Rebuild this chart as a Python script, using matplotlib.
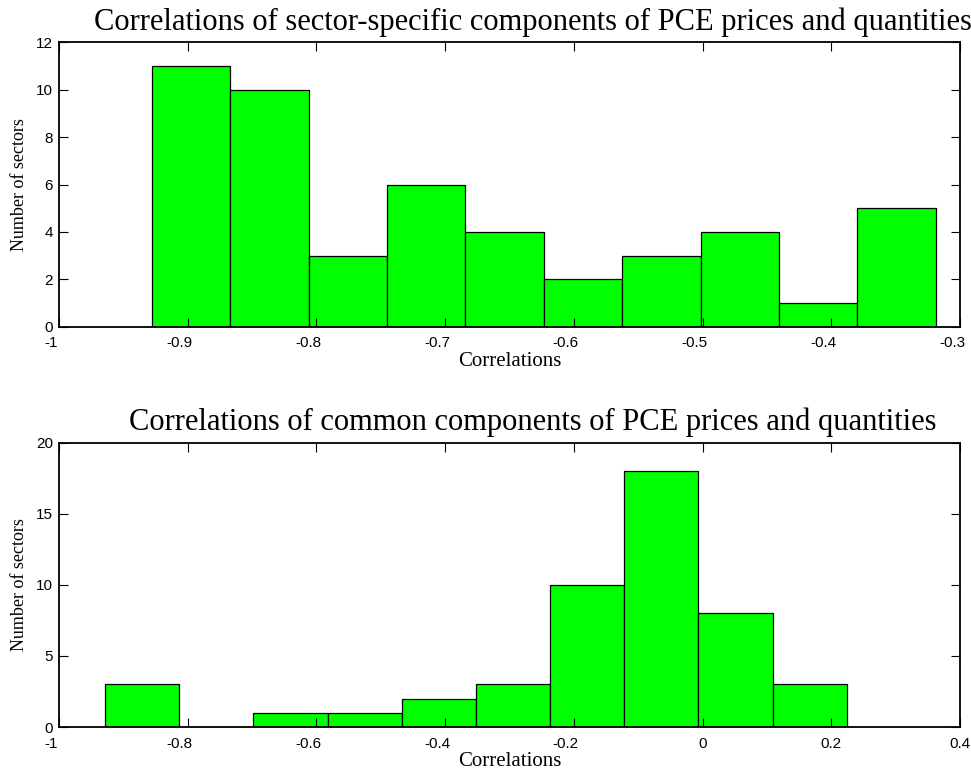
import numpy as np
import matplotlib
matplotlib.use("Agg")
import matplotlib.pyplot as plt
from matplotlib.transforms import ScaledTranslation

# top panel: sector-specific components
spec_left = -0.9278
spec_width = 0.0609
spec_counts = [11, 10, 3, 6, 4, 2, 3, 4, 1, 5]
spec_xticks = [-1, -0.9, -0.8, -0.7, -0.6, -0.5, -0.4, -0.3]
spec_yticks = [0, 2, 4, 6, 8, 10, 12]

# bottom panel: common components
comm_left = -0.928
comm_width = 0.1152
comm_counts = [3, 0, 1, 1, 2, 3, 10, 18, 8, 3]
comm_xticks = [-1, -0.8, -0.6, -0.4, -0.2, 0, 0.2, 0.4]
comm_yticks = [0, 5, 10, 15, 20]

SERIF = "Liberation Serif"
SANS = "Liberation Sans"


def hist_panel(fig, ax, left, width, counts, xticks, yticks, title):
    edges = left + width * np.arange(len(counts))
    ax.bar(edges, counts, width=width, align="edge", color="#00ff00",
           edgecolor="black", linewidth=0.9)
    ax.set_xlim(xticks[0], xticks[-1])
    ax.set_ylim(yticks[0], yticks[-1])
    ax.set_xticks(xticks)
    ax.set_yticks(yticks)
    ax.set_xticklabels([("%g" % t) for t in xticks], fontfamily=SANS, fontsize=11)
    ax.set_yticklabels([("%g" % t) for t in yticks], fontfamily=SANS, fontsize=11)
    ax.tick_params(direction="in", top=True, right=True, length=6.5, width=0.8)
    ax.tick_params(axis="x", pad=7)
    ax.tick_params(axis="y", pad=4)
    # matlab hangs the minus sign to the left of the tick
    # (after tick_params, which would reset the transforms)
    shift = ScaledTranslation(-0.08, 0, fig.dpi_scale_trans)
    for lab in ax.get_xticklabels():
        if lab.get_text().startswith("-"):
            lab.set_transform(lab.get_transform() + shift)
    for s in ax.spines.values():
        s.set_linewidth(1.3)
    ax.set_title(title, fontfamily=SERIF, fontsize=22, pad=9, x=0.526)
    ax.set_xlabel("Correlations", fontfamily=SERIF, fontsize=15, labelpad=1)
    ax.set_ylabel("Number of sectors", fontfamily=SERIF, fontsize=13, labelpad=6)


fig = plt.figure(figsize=(9.71, 7.74), dpi=100)
ax1 = fig.add_axes([0.0605, 0.5779, 0.9282, 0.3674])
ax2 = fig.add_axes([0.0605, 0.0607, 0.9282, 0.3673])

hist_panel(fig, ax1, spec_left, spec_width, spec_counts, spec_xticks, spec_yticks,
           "Correlations of sector-specific components of PCE prices and quantities")
hist_panel(fig, ax2, comm_left, comm_width, comm_counts, comm_xticks, comm_yticks,
           "Correlations of common components of PCE prices and quantities")

fig.savefig("out.png", dpi=100)
